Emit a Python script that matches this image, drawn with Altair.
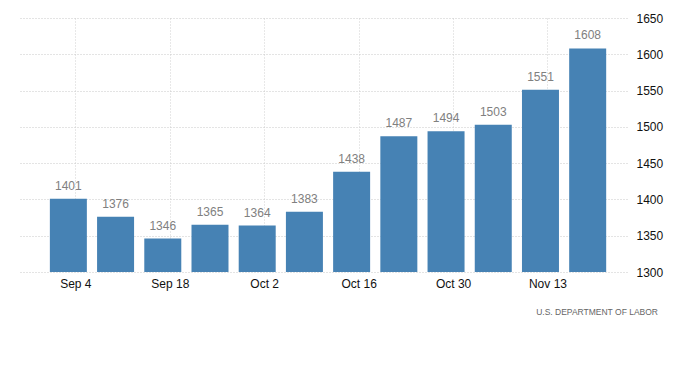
import altair as alt
import pandas as pd

weeks = ["2021-09-04", "2021-09-11", "2021-09-18", "2021-09-25", "2021-10-02", "2021-10-09",
         "2021-10-16", "2021-10-23", "2021-10-30", "2021-11-06", "2021-11-13", "2021-11-20"]
values = [1401, 1376, 1346, 1365, 1364, 1383, 1438, 1487, 1494, 1503, 1551, 1608]
tick_dates = ["2021-09-04", "2021-09-18", "2021-10-02", "2021-10-16", "2021-10-30", "2021-11-13"]
y_ticks = [1300, 1350, 1400, 1450, 1500, 1550, 1600, 1650]
source = "U.S.  DEPARTMENT  OF  LABOR"

df = pd.DataFrame({"week": pd.to_datetime(weeks), "value": values})

FONT = "Liberation Sans"
x_scale = alt.Scale(domain=[alt.DateTime(year=2021, month=8, date=26, hours=19),
                            alt.DateTime(year=2021, month=11, date=24, hours=19)],
                    padding=0)
y_scale = alt.Scale(domain=[1300, 1650], nice=False, zero=False)

tick_vals = [alt.DateTime(year=int(d[:4]), month=int(d[5:7]), date=int(d[8:])) for d in tick_dates]

x_enc = alt.X("week:T", scale=x_scale,
              axis=alt.Axis(values=tick_vals, format="%b %-d", title=None, grid=True,
                            gridDash=[1, 2], gridColor="#d0d0d0", domain=False, ticks=False,
                            labelFont=FONT, labelFontSize=12, labelColor="#111",
                            labelPadding=6))
y_enc = alt.Y("value:Q", scale=y_scale,
              axis=alt.Axis(orient="right", values=y_ticks, format="d", title=None, grid=True,
                            gridDash=[1, 2], gridColor="#c8c8c8", domain=False, ticks=False,
                            labelFont=FONT, labelFontSize=12, labelColor="#111",
                            labelPadding=9, labelOverlap=False))

base = alt.Chart(df).encode(x=x_enc, y=y_enc)

bars = base.mark_bar(size=37, xOffset=-7, color="#4682b4", clip=True)

labels = base.mark_text(xOffset=-7, dy=-6, baseline="bottom", font=FONT,
                        fontSize=12, color="#808080").encode(text=alt.Text("value:Q"))

src = alt.Chart(pd.DataFrame({"t": [source]})).mark_text(
    align="right", baseline="middle", font=FONT, fontSize=8.5, color="#666").encode(
    x=alt.value(638), y=alt.value(294), text="t:N")

chart = alt.layer(bars, labels, src).properties(
    width=607, height=254, background="white",
    autosize=alt.AutoSizeParams(type="none"),
    padding={"left": 12, "top": 10, "right": 65, "bottom": 85},
).configure_view(stroke=None)

chart.save("out.html", embed_options={"renderer": "svg", "actions": False})
